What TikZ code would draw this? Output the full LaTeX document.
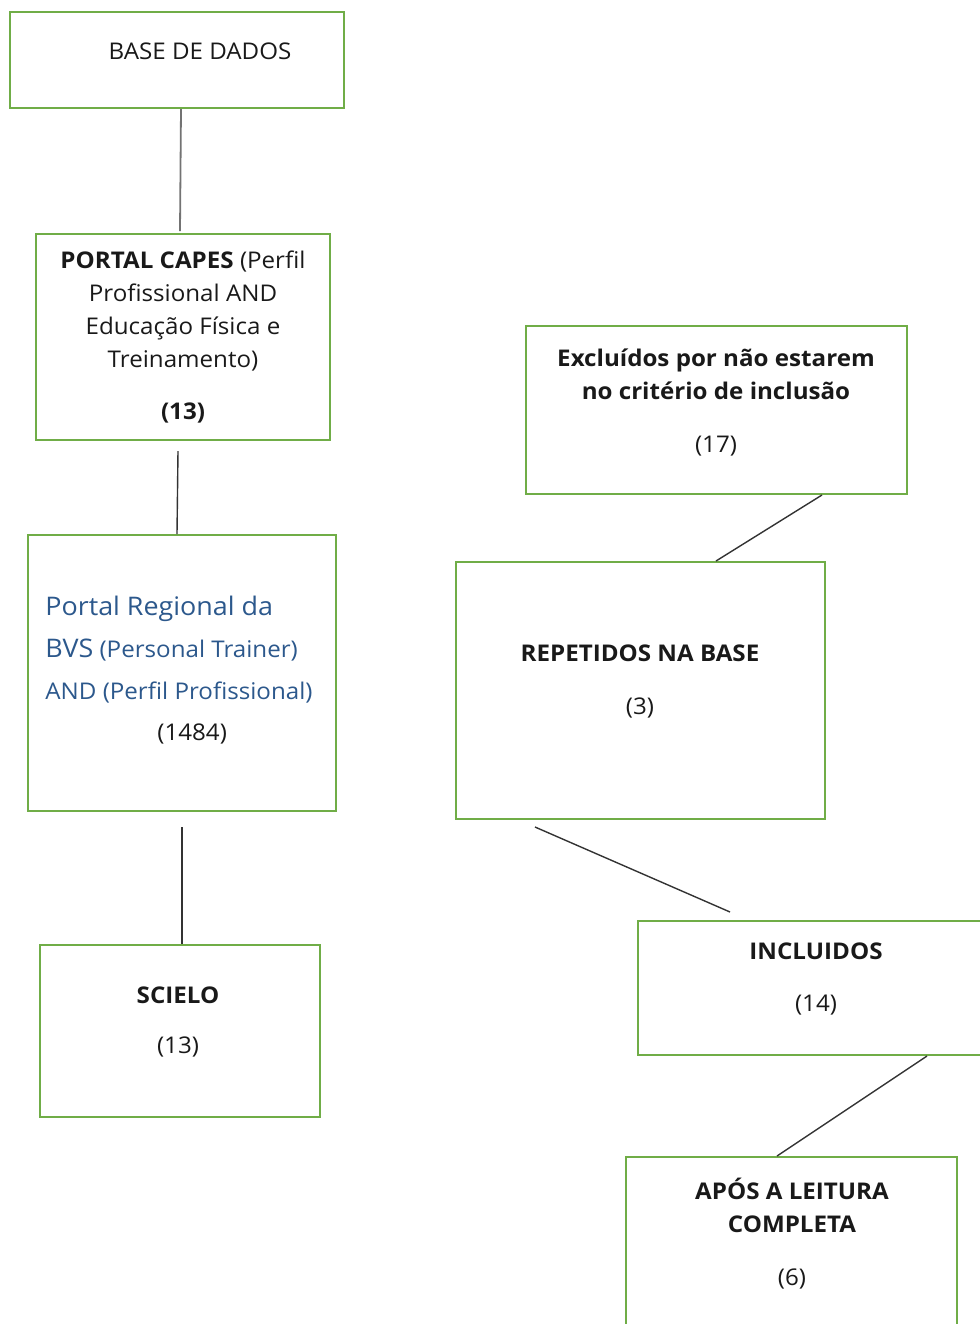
\documentclass[tikz,border=0pt]{standalone}
\usepackage{fontspec}
\setmainfont{Open Sans}[FakeStretch=1.05]
\usepackage{tikz}
\usetikzlibrary{positioning}
\definecolor{boxgreen}{HTML}{70AD47}
\definecolor{bvsblue}{RGB}{44,88,140}
\newcommand{\fs}{\fontsize{11.5}{16.5}\selectfont}
\newcommand{\fbig}{\fontsize{12.8}{20.5}\selectfont}

\begin{document}
\begin{tikzpicture}[x = .5pt, y = -.5pt,
  box/.style = {draw = boxgreen, line width = 1pt, inner sep = 0pt},
  txt/.style = {align = center, font = \fs, text = black!90},
  link/.style = {draw = black!80, line width = .7pt}]
\useasboundingbox (0,0) rectangle (980,1324);
\clip (0,0) rectangle (980,1324);
% left column
\node[box, minimum width = 167pt, minimum height = 48pt] (base) at (177,60) {};
\node[txt] (baseT) at (200,51) {BASE DE DADOS};
\node[box, minimum width = 147pt, minimum height = 103pt] (capes) at (183,337) {};
\node[txt] (capesT) at (183,337) {\textbf{PORTAL CAPES} (Perfil\\Profissional AND\\Educação Física e\\Treinamento)\\[9.5pt]\textbf{(13)}};
\node[box, minimum width = 154pt, minimum height = 138pt] (bvs) at (182,673) {};
\node[txt, align = left, anchor = north west, inner sep = 0pt, text = bvsblue, font = \fontsize{11.5}{20.8}\selectfont] (bvsT) at (45,596)
  {{\fbig Portal Regional da}\\{\fbig BVS} (Personal Trainer)\\AND (Perfil Profissional)\\\hspace*{56pt}\textcolor{black!90}{(1484)}};
\node[box, minimum width = 140pt, minimum height = 86pt] (scielo) at (180,1031) {};
\node[txt] (scieloT) at (178,1022) {\textbf{SCIELO}\\[8.5pt](13)};
% right column
\node[box, minimum width = 190.5pt, minimum height = 84pt] (excl) at (716.5,410) {};
\node[txt] (exclT) at (716,402) {\textbf{Excluídos por não estarem}\\\textbf{no critério de inclusão}\\[10pt](17)};
\node[box, minimum width = 184.5pt, minimum height = 128.5pt] (rep) at (640.5,690.5) {};
\node[txt] (repT) at (640,681) {\textbf{REPETIDOS NA BASE}\\[10pt](3)};
\node[box, minimum width = 181pt, minimum height = 67pt] (incl) at (819,988) {};
\node[txt] (inclT) at (816,979) {\textbf{INCLUIDOS}\\[9.5pt](14)};
\node[box, minimum width = 165.5pt, minimum height = 91.5pt] (apos) at (791.5,1248.5) {};
\node[txt] (aposT) at (792,1234) {\textbf{APÓS A LEITURA}\\\textbf{COMPLETA}\\[10pt](6)};
% connectors
\draw[link, draw = black!55, line width = .9pt] ([xshift = 2pt]base.south) -- ([xshift = -1.5pt, yshift = 1pt]capes.north);
\draw[link] ([xshift = -2.5pt, yshift = -5pt]capes.south) -- ([xshift = -2.5pt]bvs.north);
\draw[link] ([yshift = -7.5pt]bvs.south) -- ([xshift = 1pt]scielo.north);
\draw[link] ([xshift = 52.75pt]excl.south) -- ([xshift = 37.75pt]rep.north);
\draw[link] ([xshift = -52.75pt, yshift = -3.5pt]rep.south) -- ([xshift = -44.5pt, yshift = 4pt]incl.north);
\draw[link] ([xshift = 54pt]incl.south) -- ([xshift = -7.25pt]apos.north);
\end{tikzpicture}
\end{document}
